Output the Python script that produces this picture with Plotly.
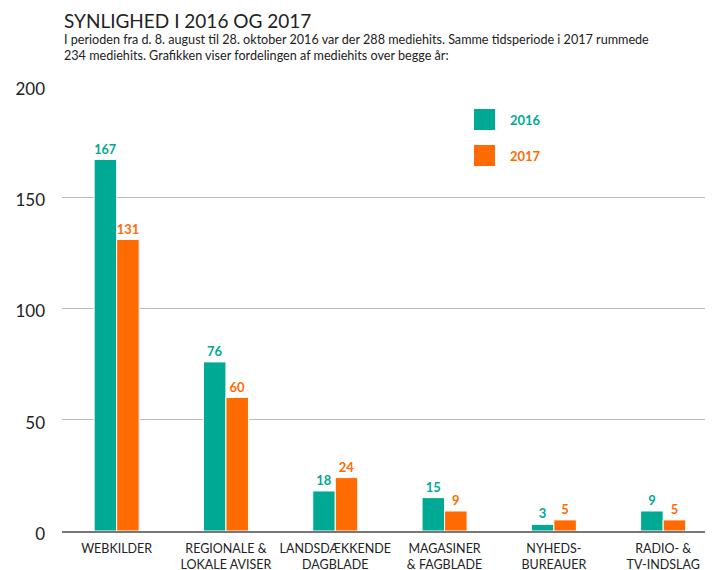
import plotly.graph_objects as go

categories = ["WEBKILDER", "REGIONALE &<br>LOKALE AVISER", "LANDSDÆKKENDE<br>DAGBLADE",
              "MAGASINER<br>& FAGBLADE", "NYHEDS-<br>BUREAUER", "RADIO- &<br>TV-INDSLAG"]
values_2016 = [167, 76, 18, 15, 3, 9]
values_2017 = [131, 60, 24, 9, 5, 5]
series_names = ["2016", "2017"]
tick_vals = [0, 50, 100, 150, 200]

GREEN = "#00A994"
ORANGE = "#FF6B00"
FONT = "Lato, 'Open Sans', sans-serif"

# page has 8px default body margin -> figure sized to fill the rest of the window
W, H = 705, 562
OFF = 8
ML, MR, MT, MB = 54, 0, 78, 39

fig = go.Figure()
for name, vals, col in [(series_names[0], values_2016, GREEN), (series_names[1], values_2017, ORANGE)]:
    fig.add_trace(go.Bar(
        x=categories, y=vals, name=name,
        marker=dict(color=col, line=dict(color="white", width=1)),
        text=[str(v) for v in vals], textposition="outside",
        textfont=dict(color=col, size=13, family=FONT, weight="bold"),
        cliponaxis=False, showlegend=False,
    ))

fig.update_layout(
    width=W, height=H,
    margin=dict(l=ML, r=MR, t=MT, b=MB, autoexpand=False),
    plot_bgcolor="white", paper_bgcolor="white",
    barmode="group", bargap=0.588, bargroupgap=0,
    font=dict(family=FONT, color="#222222"),
    xaxis=dict(showgrid=False, showline=True, linecolor="#777777", linewidth=2,
               ticks="", tickfont=dict(size=12.5, color="#222222"), fixedrange=True,
               ticklabelstandoff=5, range=[-0.5, 5.456], automargin=False),
    yaxis=dict(range=[0, 200], tickvals=tick_vals, showgrid=True, gridcolor="#BBBBBB",
               gridwidth=1, zeroline=False, showline=False, ticks="",
               tickfont=dict(size=17, color="#222222"), ticklabelstandoff=16,
               ticklabelshift=3, fixedrange=True, automargin=False),
)

ph = H - MT - MB
pw = W - ML - MR

def py(ypix):
    return (H - MB - (ypix - OFF)) / ph

def px(xpix):
    return ((xpix - OFF) - ML) / pw

fig.add_annotation(x=px(62), y=py(7), xref="paper", yref="paper", xanchor="left", yanchor="top",
                   showarrow=False, text="SYNLIGHED I 2016 OG 2017",
                   font=dict(size=19, color="#222222", family=FONT))
fig.add_annotation(x=px(62), y=py(30), xref="paper", yref="paper", xanchor="left", yanchor="top",
                   showarrow=False, align="left",
                   text="I perioden fra d. 8. august til 28. oktober 2016 var der 288 mediehits. Samme tidsperiode i 2017 rummede<br>234 mediehits. Grafikken viser fordelingen af mediehits over begge år:",
                   font=dict(size=12.6, color="#222222", family=FONT))

# Legend drawn as shapes + labels
for i, (name, col) in enumerate([(series_names[0], GREEN), (series_names[1], ORANGE)]):
    y0 = 109 + i * 36
    fig.add_shape(type="rect", xref="paper", yref="paper",
                  x0=px(474), x1=px(495), y0=py(y0 + 21), y1=py(y0),
                  fillcolor=col, line=dict(width=0))
    fig.add_annotation(x=px(508), y=py(y0 + 11), xref="paper", yref="paper",
                       xanchor="left", yanchor="middle", showarrow=False, text="<b>" + name + "</b>",
                       font=dict(size=13, color=col, family=FONT))

fig.write_html("out.html")
